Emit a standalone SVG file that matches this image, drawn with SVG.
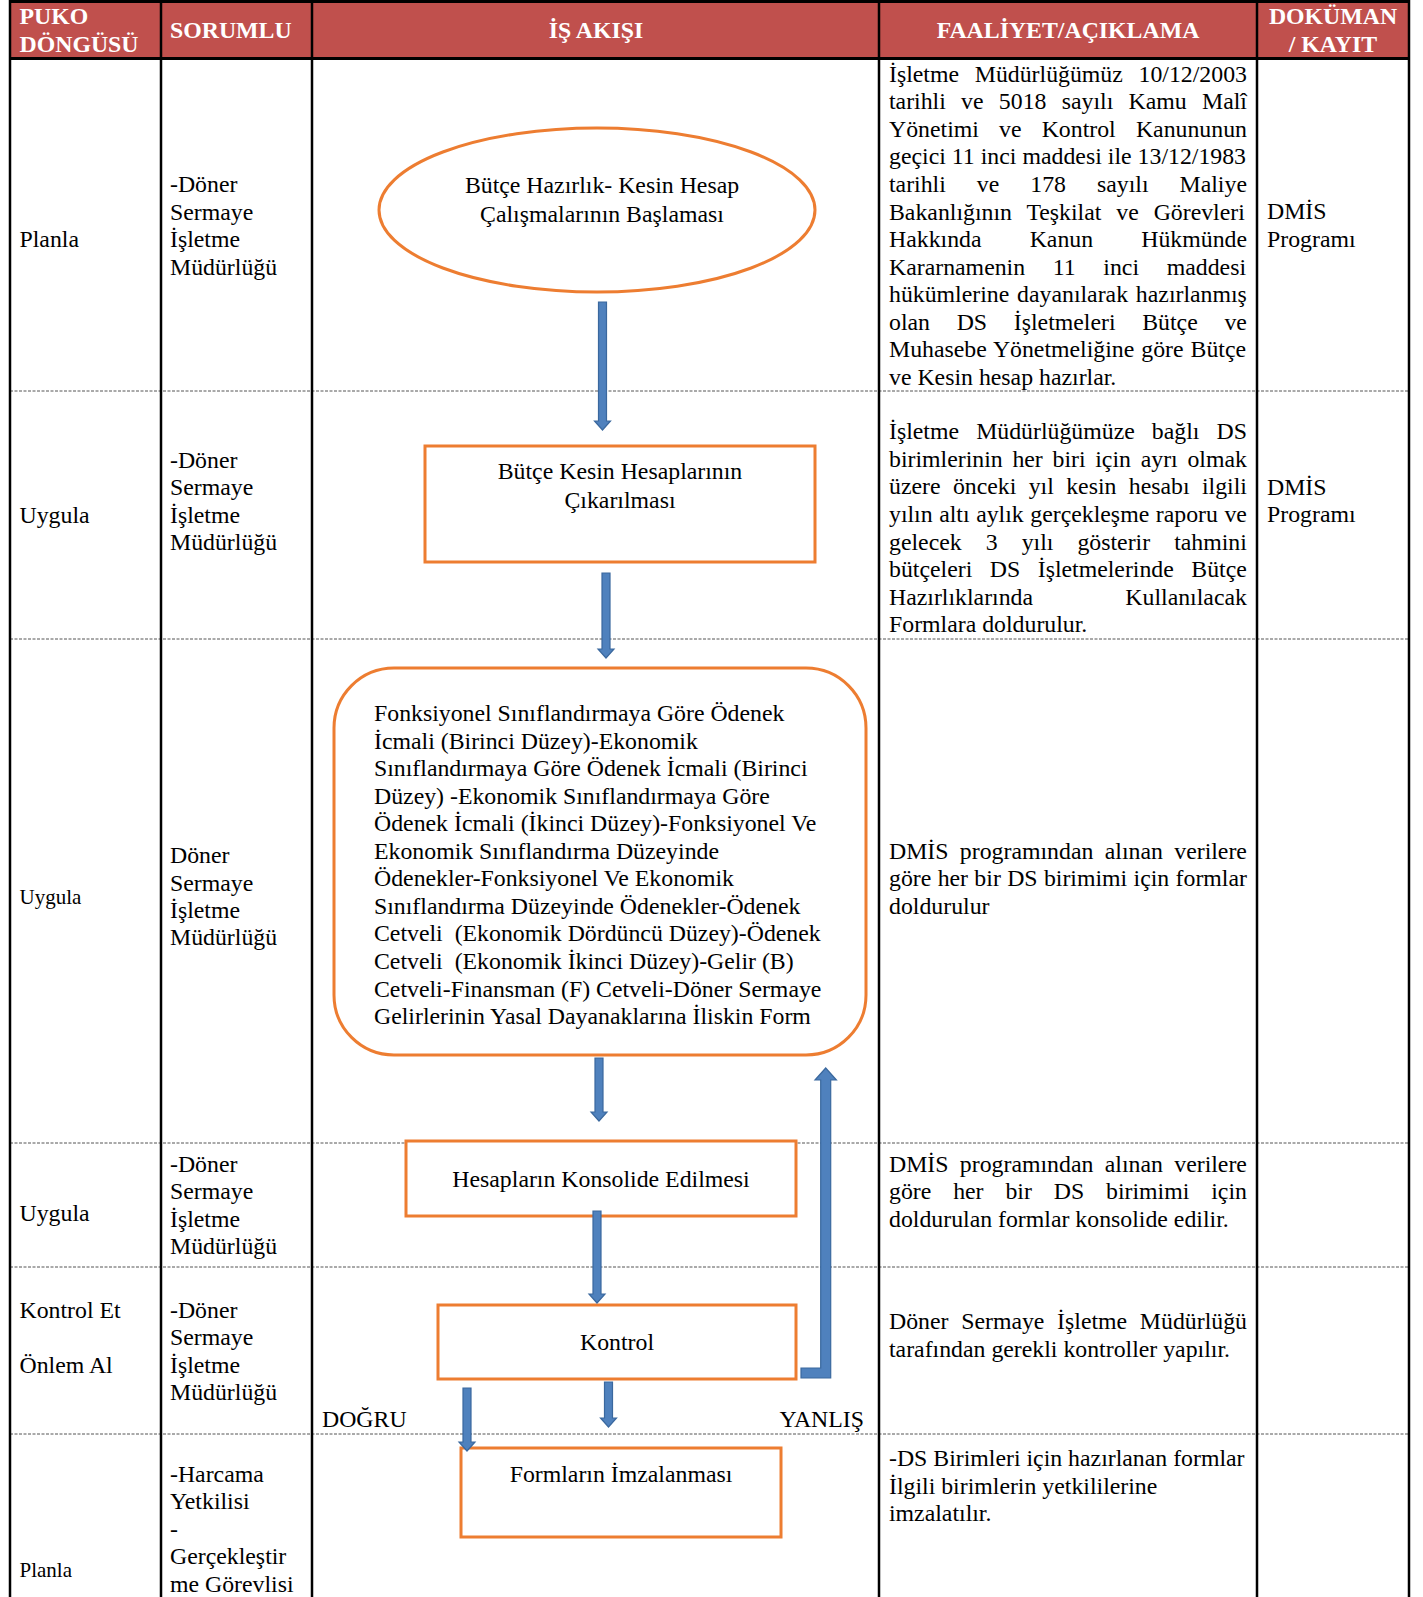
<svg xmlns="http://www.w3.org/2000/svg" width="1423" height="1597" viewBox="0 0 1423 1597">
<style>
.t{font-family:"Liberation Serif","Times New Roman",serif;font-size:23.8px;fill:#000;white-space:pre}
.sm{font-size:21px}
.h{font-family:"Liberation Serif","Times New Roman",serif;font-size:23.8px;font-weight:bold;fill:#fff}
.c{text-anchor:middle}
.box{fill:#fff;stroke:#ED7D31;stroke-width:3}
.arr{fill:#4F81BD;stroke:#3A689E;stroke-width:1.2}
.vl{stroke:#000;stroke-width:2.5}
.dl{stroke:#555;stroke-width:1;stroke-dasharray:3 1.5}
</style>
<rect x="0" y="0" width="1423" height="1597" fill="#fff"/>
<g id="table">
<rect x="10" y="2" width="1399" height="56" fill="#C0504D"/>
<line x1="9" y1="1.5" x2="1410" y2="1.5" stroke="#000" stroke-width="3"/>
<line x1="9" y1="58.5" x2="1410" y2="58.5" stroke="#000" stroke-width="3"/>
<line class="dl" x1="10" y1="391" x2="1409" y2="391"/>
<line class="dl" x1="10" y1="639" x2="1409" y2="639"/>
<line class="dl" x1="10" y1="1143" x2="1409" y2="1143"/>
<line class="dl" x1="10" y1="1267" x2="1409" y2="1267"/>
<line class="dl" x1="10" y1="1434" x2="1409" y2="1434"/>
<line class="vl" x1="10" y1="0" x2="10" y2="1597"/>
<line class="vl" x1="161" y1="0" x2="161" y2="1597"/>
<line class="vl" x1="312" y1="0" x2="312" y2="1597"/>
<line class="vl" x1="879" y1="0" x2="879" y2="1597"/>
<line class="vl" x1="1257" y1="0" x2="1257" y2="1597"/>
<line class="vl" x1="1409" y1="0" x2="1409" y2="1597"/>
</g>
<g id="header">
<text class="h" x="19.5" y="24">PUKO</text>
<text class="h" x="19.5" y="51.5">DÖNGÜSÜ</text>
<text class="h" x="170" y="38.3">SORUMLU</text>
<text class="h c" x="596" y="38.3">İŞ AKIŞI</text>
<text class="h c" x="1068" y="38.3">FAALİYET/AÇIKLAMA</text>
<text class="h c" x="1333" y="24">DOKÜMAN</text>
<text class="h c" x="1333" y="51.5">/ KAYIT</text>
</g>
<g id="puko">
<text class="t" x="19.5" y="246.7">Planla</text>
<text class="t" x="19.5" y="523.3">Uygula</text>
<text class="t sm" x="19.5" y="903.5">Uygula</text>
<text class="t" x="19.5" y="1220.7">Uygula</text>
<text class="t" x="19.5" y="1317.7">Kontrol Et</text>
<text class="t" x="19.5" y="1372.7">Önlem Al</text>
<text class="t sm" x="19.5" y="1577">Planla</text>
</g>
<g id="sorumlu">
<text class="t" x="170" y="192">-Döner</text>
<text class="t" x="170" y="219.5">Sermaye</text>
<text class="t" x="170" y="247">İşletme</text>
<text class="t" x="170" y="274.5">Müdürlüğü</text>
<text class="t" x="170" y="467.5">-Döner</text>
<text class="t" x="170" y="495">Sermaye</text>
<text class="t" x="170" y="522.5">İşletme</text>
<text class="t" x="170" y="550">Müdürlüğü</text>
<text class="t" x="170" y="863">Döner</text>
<text class="t" x="170" y="890.5">Sermaye</text>
<text class="t" x="170" y="917.5">İşletme</text>
<text class="t" x="170" y="944.5">Müdürlüğü</text>
<text class="t" x="170" y="1171.5">-Döner</text>
<text class="t" x="170" y="1199">Sermaye</text>
<text class="t" x="170" y="1226.5">İşletme</text>
<text class="t" x="170" y="1254">Müdürlüğü</text>
<text class="t" x="170" y="1317.7">-Döner</text>
<text class="t" x="170" y="1345.2">Sermaye</text>
<text class="t" x="170" y="1372.7">İşletme</text>
<text class="t" x="170" y="1400.2">Müdürlüğü</text>
<text class="t" x="170" y="1481.7">-Harcama</text>
<text class="t" x="170" y="1509.2">Yetkilisi</text>
<text class="t" x="170" y="1536.7">-</text>
<text class="t" x="170" y="1564.2">Gerçekleştir</text>
<text class="t" x="170" y="1591.7">me Görevlisi</text>
</g>
<g id="faaliyet">
<text class="t" x="889" y="81.7" word-spacing="9.76">İşletme Müdürlüğümüz 10/12/2003</text>
<text class="t" x="889" y="109.3" word-spacing="9.33">tarihli ve 5018 sayılı Kamu Malî</text>
<text class="t" x="889" y="136.8" word-spacing="14.22">Yönetimi ve Kontrol Kanununun</text>
<text class="t" x="889" y="164.4" word-spacing="0.07">geçici 11 inci maddesi ile 13/12/1983</text>
<text class="t" x="889" y="192" word-spacing="25.05">tarihli ve 178 sayılı Maliye</text>
<text class="t" x="889" y="219.6" word-spacing="8.95">Bakanlığının Teşkilat ve Görevleri</text>
<text class="t" x="889" y="247.1" word-spacing="42.2">Hakkında Kanun Hükmünde</text>
<text class="t" x="889" y="274.7" word-spacing="21.72">Kararnamenin 11 inci maddesi</text>
<text class="t" x="889" y="302.3" word-spacing="1.85">hükümlerine dayanılarak hazırlanmış</text>
<text class="t" x="889" y="329.8" word-spacing="20.75">olan DS İşletmeleri Bütçe ve</text>
<text class="t" x="889" y="357.4" word-spacing="1.02">Muhasebe Yönetmeliğine göre Bütçe</text>
<text class="t" x="889" y="385">ve Kesin hesap hazırlar.</text>

<text class="t" x="889" y="439.3" word-spacing="11.15">İşletme Müdürlüğümüze bağlı DS</text>
<text class="t" x="889" y="466.9" word-spacing="3.77">birimlerinin her biri için ayrı olmak</text>
<text class="t" x="889" y="494.4" word-spacing="6.42">üzere önceki yıl kesin hesabı ilgili</text>
<text class="t" x="889" y="522" word-spacing="0.61">yılın altı aylık gerçekleşme raporu ve</text>
<text class="t" x="889" y="549.6" word-spacing="18.1">gelecek 3 yılı gösterir tahmini</text>
<text class="t" x="889" y="577.2" word-spacing="11.57">bütçeleri DS İşletmelerinde Bütçe</text>
<text class="t" x="889" y="604.7" word-spacing="86.35">Hazırlıklarında Kullanılacak</text>
<text class="t" x="889" y="632.3">Formlara doldurulur.</text>

<text class="t" x="889" y="858.5" word-spacing="5.42">DMİS programından alınan verilere</text>
<text class="t" x="889" y="886" word-spacing="0.4">göre her bir DS birimimi için formlar</text>
<text class="t" x="889" y="913.5">doldurulur</text>

<text class="t" x="889" y="1171.7" word-spacing="5.42">DMİS programından alınan verilere</text>
<text class="t" x="889" y="1199.3" word-spacing="15.93">göre her bir DS birimimi için</text>
<text class="t" x="889" y="1226.8">doldurulan formlar konsolide edilir.</text>

<text class="t" x="889" y="1329.3" word-spacing="6.75">Döner Sermaye İşletme Müdürlüğü</text>
<text class="t" x="889" y="1357">tarafından gerekli kontroller yapılır.</text>

<text class="t" x="889" y="1466">-DS Birimleri için hazırlanan formlar</text>
<text class="t" x="889" y="1493.5">İlgili birimlerin yetkililerine</text>
<text class="t" x="889" y="1521">imzalatılır.</text>
</g>
<g id="dokuman">
<text class="t" x="1267" y="219.3">DMİS</text>
<text class="t" x="1267" y="246.8">Programı</text>
<text class="t" x="1267" y="494.5">DMİS</text>
<text class="t" x="1267" y="522">Programı</text>
</g>
<g id="n1">
<ellipse class="box" cx="597" cy="210" rx="218" ry="82"/>
<text class="t c" x="602" y="193">Bütçe Hazırlık- Kesin Hesap</text>
<text class="t c" x="602" y="221.5">Çalışmalarının Başlaması</text>
</g>
<g id="n2">
<rect class="box" x="425" y="446" width="390" height="116"/>
<text class="t c" x="620" y="479.3">Bütçe Kesin Hesaplarının</text>
<text class="t c" x="620" y="507.7">Çıkarılması</text>
</g>
<g id="n3">
<rect class="box" x="334" y="668" width="532" height="387" rx="60" ry="60"/>
<text class="t" x="374" y="721">Fonksiyonel Sınıflandırmaya Göre Ödenek</text>
<text class="t" x="374" y="748.5">İcmali (Birinci Düzey)-Ekonomik</text>
<text class="t" x="374" y="776.1">Sınıflandırmaya Göre Ödenek İcmali (Birinci</text>
<text class="t" x="374" y="803.6">Düzey) -Ekonomik Sınıflandırmaya Göre</text>
<text class="t" x="374" y="831.2">Ödenek İcmali (İkinci Düzey)-Fonksiyonel Ve</text>
<text class="t" x="374" y="858.7">Ekonomik Sınıflandırma Düzeyinde</text>
<text class="t" x="374" y="886.3">Ödenekler-Fonksiyonel Ve Ekonomik</text>
<text class="t" x="374" y="913.8">Sınıflandırma Düzeyinde Ödenekler-Ödenek</text>
<text class="t" x="374" y="941.4">Cetveli  (Ekonomik Dördüncü Düzey)-Ödenek</text>
<text class="t" x="374" y="969">Cetveli  (Ekonomik İkinci Düzey)-Gelir (B)</text>
<text class="t" x="374" y="996.5">Cetveli-Finansman (F) Cetveli-Döner Sermaye</text>
<text class="t" x="374" y="1024">Gelirlerinin Yasal Dayanaklarına İliskin Form</text>
</g>
<g id="n4">
<rect class="box" x="406" y="1141" width="390" height="75"/>
<text class="t c" x="601" y="1186.7">Hesapların Konsolide Edilmesi</text>
</g>
<g id="n5">
<rect class="box" x="438" y="1305" width="358" height="74"/>
<text class="t c" x="617" y="1350">Kontrol</text>
</g>
<g id="n6">
<rect class="box" x="461" y="1448" width="320" height="89"/>
<text class="t c" x="621" y="1482">Formların İmzalanması</text>
</g>
<g id="connectors">
<polygon class="arr" points="598.5,302 606.5,302 606.5,421 610.5,421 602.5,430 594.5,421 598.5,421"/>
<polygon class="arr" points="602,573 610,573 610,649 614,649 606,658 598,649 602,649"/>
<polygon class="arr" points="595,1058 603,1058 603,1112 607,1112 599,1121 591,1112 595,1112"/>
<polygon class="arr" points="593,1211 601,1211 601,1294 605,1294 597,1303 589,1294 593,1294"/>
<polygon class="arr" points="463,1388 471,1388 471,1442 475,1442 467,1451 459,1442 463,1442"/>
<polygon class="arr" points="604.5,1382 612.5,1382 612.5,1418 616.5,1418 608.5,1427 600.5,1418 604.5,1418"/>
<polygon class="arr" points="801,1368 820.7,1368 820.7,1080 815,1080 825.7,1068 836.4,1080 830.7,1080 830.7,1378 801,1378"/>
<text class="t" x="322" y="1427">DOĞRU</text>
<text class="t" x="864" y="1427" text-anchor="end">YANLIŞ</text>
</g>
</svg>
